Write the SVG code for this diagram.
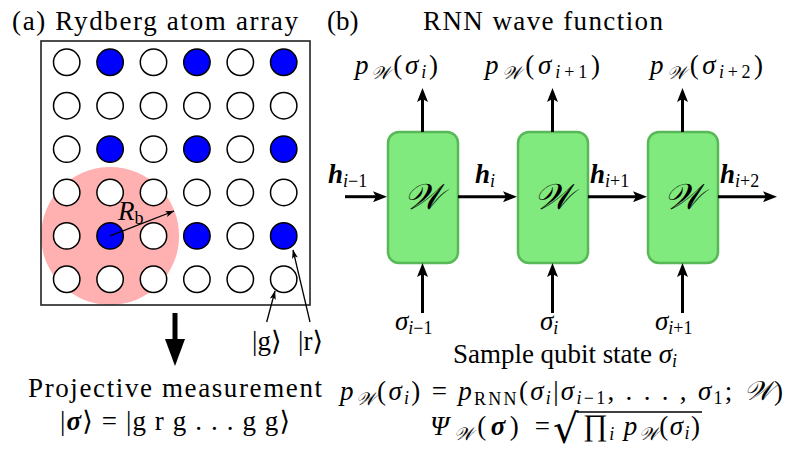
<svg xmlns="http://www.w3.org/2000/svg" width="790" height="475" viewBox="0 0 790 475">
<style>
text{font-family:"Liberation Serif","DejaVu Serif",serif;fill:#000}
.t{font-size:27px}
.m{font-size:27px;font-style:italic}
.s{font-size:18px}
.b{font-weight:bold}
.w{font-size:36px;font-style:italic}
.atom{stroke:#000;stroke-width:1.5}
.g{fill:#fff}
.r{fill:#0000ff}
.box{fill:#80ea7e;stroke:#58b858;stroke-width:2.5}
.ar{stroke:#000;stroke-width:3;fill:none}
.th{stroke:#000;stroke-width:1.3;fill:none}
</style>
<defs>
<marker id="ah" viewBox="0 0 14 11" refX="4" refY="5.5" markerWidth="14" markerHeight="11" markerUnits="userSpaceOnUse" orient="auto"><path d="M0,0 L14,5.5 L0,11 L3,5.5z" fill="#000"/></marker>
<marker id="ahs" viewBox="0 0 9 6" refX="8.5" refY="3" markerWidth="9" markerHeight="6" markerUnits="userSpaceOnUse" orient="auto"><path d="M0,0 L9,3 L0,6 L2,3z" fill="#000"/></marker>
</defs>

<g id="panel-a">
<text class="t" x="12" y="30" textLength="286">(a) Rydberg atom array</text>
<circle id="blockade" cx="110.1" cy="235.9" r="69" fill="#ffb0b0"/>
<g id="atoms">
<circle class="atom g" cx="66.7" cy="62.3" r="13.2"/><circle class="atom r" cx="110.1" cy="62.3" r="13.2"/><circle class="atom g" cx="153.5" cy="62.3" r="13.2"/><circle class="atom r" cx="196.9" cy="62.3" r="13.2"/><circle class="atom g" cx="240.3" cy="62.3" r="13.2"/><circle class="atom r" cx="283.7" cy="62.3" r="13.2"/>
<circle class="atom g" cx="66.7" cy="105.7" r="13.2"/><circle class="atom g" cx="110.1" cy="105.7" r="13.2"/><circle class="atom g" cx="153.5" cy="105.7" r="13.2"/><circle class="atom g" cx="196.9" cy="105.7" r="13.2"/><circle class="atom g" cx="240.3" cy="105.7" r="13.2"/><circle class="atom g" cx="283.7" cy="105.7" r="13.2"/>
<circle class="atom g" cx="66.7" cy="149.1" r="13.2"/><circle class="atom r" cx="110.1" cy="149.1" r="13.2"/><circle class="atom g" cx="153.5" cy="149.1" r="13.2"/><circle class="atom r" cx="196.9" cy="149.1" r="13.2"/><circle class="atom g" cx="240.3" cy="149.1" r="13.2"/><circle class="atom r" cx="283.7" cy="149.1" r="13.2"/>
<circle class="atom g" cx="66.7" cy="192.5" r="13.2"/><circle class="atom g" cx="110.1" cy="192.5" r="13.2"/><circle class="atom g" cx="153.5" cy="192.5" r="13.2"/><circle class="atom g" cx="196.9" cy="192.5" r="13.2"/><circle class="atom g" cx="240.3" cy="192.5" r="13.2"/><circle class="atom g" cx="283.7" cy="192.5" r="13.2"/>
<circle class="atom g" cx="66.7" cy="235.9" r="13.2"/><circle class="atom r" cx="110.1" cy="235.9" r="13.2"/><circle class="atom g" cx="153.5" cy="235.9" r="13.2"/><circle class="atom r" cx="196.9" cy="235.9" r="13.2"/><circle class="atom g" cx="240.3" cy="235.9" r="13.2"/><circle class="atom r" cx="283.7" cy="235.9" r="13.2"/>
<circle class="atom g" cx="66.7" cy="279.3" r="13.2"/><circle class="atom g" cx="110.1" cy="279.3" r="13.2"/><circle class="atom g" cx="153.5" cy="279.3" r="13.2"/><circle class="atom g" cx="196.9" cy="279.3" r="13.2"/><circle class="atom g" cx="240.3" cy="279.3" r="13.2"/><circle class="atom g" cx="283.7" cy="279.3" r="13.2"/>
</g>
<rect id="frame" x="41" y="41" width="269" height="264" fill="none" stroke="#222" stroke-width="1.6"/>
<text class="m" x="118" y="220">R<tspan class="s" style="font-style:normal" dy="4">b</tspan></text>
<text class="t" x="252" y="350">|g⟩</text>
<text class="t" x="298" y="350">|r⟩</text>
<text class="t" x="175" y="397" text-anchor="middle" textLength="294">Projective measurement</text>
<text class="t" x="60" y="430" textLength="230">|<tspan class="b" style="font-style:italic">σ</tspan>⟩ = |g r g . . . g g⟩</text>
</g>

<g id="panel-b">
<text class="t" x="327" y="30">(b)</text>
<text class="t" x="423" y="30" textLength="240">RNN wave function</text>
</g>

<g id="cell1"><rect class="box" x="388" y="132" width="70" height="131" rx="11"/><text class="w" x="423" y="209" text-anchor="middle">𝒲</text></g>
<g id="cell2"><rect class="box" x="518" y="132" width="70" height="131" rx="11"/><text class="w" x="553" y="209" text-anchor="middle">𝒲</text></g>
<g id="cell3"><rect class="box" x="648" y="132" width="70" height="131" rx="11"/><text class="w" x="683" y="209" text-anchor="middle">𝒲</text></g>

<g id="labels-b">
<text class="m" x="355" y="74" textLength="83">p<tspan class="s" dy="5">𝒲</tspan><tspan dy="-5" style="font-style:normal">(</tspan>σ<tspan class="s" dy="4">i</tspan><tspan dy="-4" style="font-style:normal">)</tspan></text>
<text class="m" x="485" y="74" textLength="115">p<tspan class="s" dy="5">𝒲</tspan><tspan dy="-5" style="font-style:normal">(</tspan>σ<tspan class="s" dy="4">i<tspan style="font-style:normal">+1</tspan></tspan><tspan dy="-4" style="font-style:normal">)</tspan></text>
<text class="m" x="650" y="74" textLength="113">p<tspan class="s" dy="5">𝒲</tspan><tspan dy="-5" style="font-style:normal">(</tspan>σ<tspan class="s" dy="4">i<tspan style="font-style:normal">+2</tspan></tspan><tspan dy="-4" style="font-style:normal">)</tspan></text>
<text class="m b" x="328" y="183">h<tspan class="s" dy="4" style="font-weight:normal">i<tspan style="font-style:normal">−1</tspan></tspan></text>
<text class="m b" x="475" y="183">h<tspan class="s" dy="4" style="font-weight:normal">i</tspan></text>
<text class="m b" x="590" y="183">h<tspan class="s" dy="4" style="font-weight:normal">i<tspan style="font-style:normal">+1</tspan></tspan></text>
<text class="m b" x="720" y="183">h<tspan class="s" dy="4" style="font-weight:normal">i<tspan style="font-style:normal">+2</tspan></tspan></text>
<text class="m" x="395" y="330">σ<tspan class="s" dy="4">i<tspan style="font-style:normal">−1</tspan></tspan></text>
<text class="m" x="540" y="330">σ<tspan class="s" dy="4">i</tspan></text>
<text class="m" x="655" y="330">σ<tspan class="s" dy="4">i<tspan style="font-style:normal">+1</tspan></tspan></text>
<text class="t" x="453" y="363" textLength="224">Sample qubit state <tspan style="font-style:italic">σ</tspan><tspan class="s" style="font-style:italic" dy="4">i</tspan></text>
<text class="m" x="340" y="400" textLength="443">p<tspan class="s" dy="5">𝒲</tspan><tspan dy="-5" style="font-style:normal">(</tspan>σ<tspan class="s" dy="4">i</tspan><tspan dy="-4" style="font-style:normal">) = </tspan>p<tspan class="s" dy="5" style="font-style:normal">RNN</tspan><tspan dy="-5" style="font-style:normal">(</tspan>σ<tspan class="s" dy="4">i</tspan><tspan dy="-4" style="font-style:normal">|</tspan>σ<tspan class="s" dy="4">i<tspan style="font-style:normal">−1</tspan></tspan><tspan dy="-4" style="font-style:normal">, . . . , </tspan>σ<tspan class="s" dy="4" style="font-style:normal">1</tspan><tspan dy="-4" style="font-style:normal">; </tspan>𝒲<tspan style="font-style:normal">)</tspan></text>
<text class="m" x="430" y="435" textLength="120">Ψ<tspan class="s" dy="5">𝒲</tspan><tspan dy="-5" style="font-style:normal">(</tspan><tspan class="b">σ</tspan><tspan style="font-style:normal">) =</tspan></text>
<text x="553" y="443" style="font-size:40px;font-family:'DejaVu Serif',serif">√</text>
<line x1="577" y1="412" x2="702" y2="412" stroke="#000" stroke-width="1.3"/>
<text class="m" x="583" y="435" textLength="117"><tspan style="font-style:normal;font-size:30px">∏</tspan><tspan class="s" dy="5">i</tspan><tspan dy="-5"> p</tspan><tspan class="s" dy="5">𝒲</tspan><tspan dy="-5" style="font-style:normal">(</tspan>σ<tspan class="s" dy="4">i</tspan><tspan dy="-4" style="font-style:normal">)</tspan></text>
</g>

<g id="connectors">
<path class="ar" d="M345,196.7 H377" marker-end="url(#ah)"/>
<path class="ar" d="M458,196.7 H507" marker-end="url(#ah)"/>
<path class="ar" d="M588,196.7 H637" marker-end="url(#ah)"/>
<path class="ar" d="M718,196.7 H767" marker-end="url(#ah)"/>
<path class="ar" d="M422.5,132 V98" marker-end="url(#ah)"/>
<path class="ar" d="M552.5,132 V98" marker-end="url(#ah)"/>
<path class="ar" d="M682.5,132 V98" marker-end="url(#ah)"/>
<path class="ar" d="M422.5,313 V273" marker-end="url(#ah)"/>
<path class="ar" d="M552.5,313 V273" marker-end="url(#ah)"/>
<path class="ar" d="M682.5,313 V273" marker-end="url(#ah)"/>
<path class="th" d="M110.1,235.9 L174,211" marker-end="url(#ahs)"/>
<path class="th" d="M266.7,322 L275,291" marker-end="url(#ahs)"/>
<path class="th" d="M310,322 L293,250" marker-end="url(#ahs)"/>
<path d="M175,313 V342" stroke="#000" stroke-width="5" fill="none"/>
<polygon points="165,339 185,339 175,366" fill="#000"/>
</g>
</svg>
